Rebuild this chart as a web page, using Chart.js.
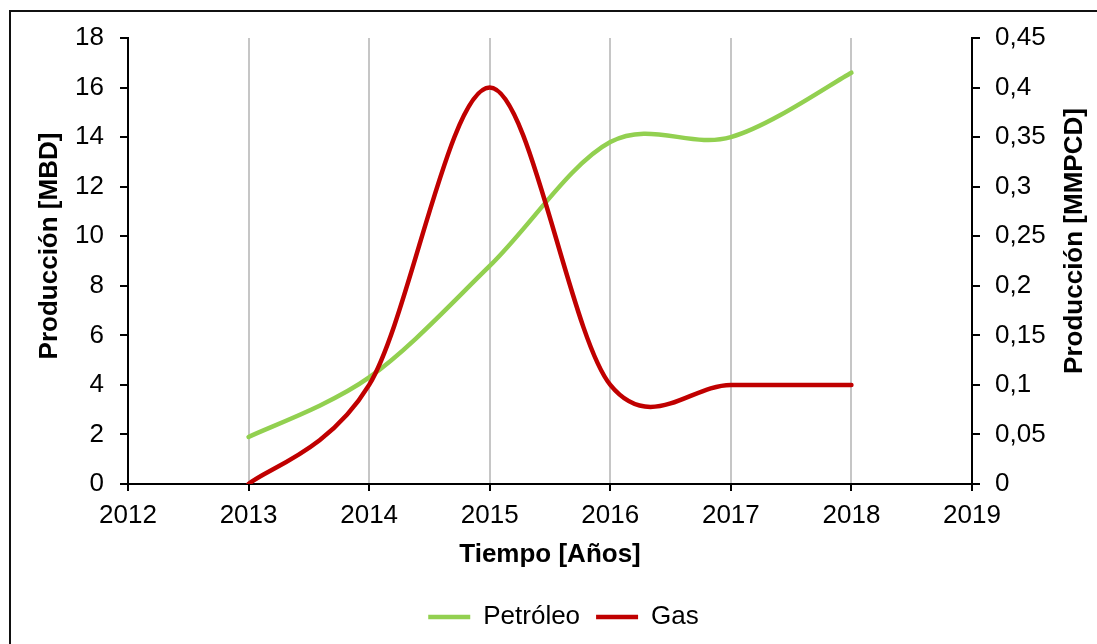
<!DOCTYPE html>
<html lang="es">
<head>
<meta charset="utf-8">
<title>Producción de Petróleo y Gas</title>
<script src="https://cdn.jsdelivr.net/npm/chart.js@4/dist/chart.umd.min.js"></script>
<style>
  html, body { margin: 0; padding: 0; background: #fff; }
  #wrap { position: relative; width: 1097px; height: 644px; overflow: hidden; }
  #frame { position: absolute; left: 9px; top: 10px; width: 1200px; height: 800px;
           border-left: 2px solid #111; border-top: 2px solid #111; pointer-events: none; }
  canvas { position: absolute; left: 0; top: 0; }
</style>
</head>
<body>
<div id="wrap">
  <canvas id="chart" width="1097" height="644"></canvas>
  <div id="frame"></div>
</div>
<script>
// Annual production series
const years = [2013, 2014, 2015, 2016, 2017, 2018];
const petroleo = [1.9, 4.3, 8.8, 13.8, 14.0, 16.6];   // MBD (left axis)
const gas = [0.0, 0.1, 0.4, 0.1, 0.1, 0.1];           // MMPCD (right axis)

const seriesNames = ['Petróleo', 'Gas'];
const xTitle = 'Tiempo [Años]';
const yLeftTitle = 'Producción [MBD]';
const yRightTitle = 'Producción [MMPCD]';

const FONT = "'Liberation Sans', Arial, sans-serif";

// Rotated titles for both vertical axes, both reading bottom-to-top
const yTitlesPlugin = {
  id: 'yTitles',
  afterDraw(chart) {
    const ctx = chart.ctx;
    const draw = (text, x, y) => {
      ctx.save();
      ctx.fillStyle = '#000';
      ctx.font = 'bold 26px ' + FONT;
      ctx.textAlign = 'center';
      ctx.textBaseline = 'middle';
      ctx.translate(x, y);
      ctx.rotate(-Math.PI / 2);
      ctx.fillText(text, 0, 0);
      ctx.restore();
    };
    draw(yLeftTitle, 50, 246);
    draw(yRightTitle, 1075, 241);
  }
};

// Spreadsheet-style smoothing: Catmull-Rom tangents (neighbour difference / 6)
// applied to the bezier control points of each line element before it is drawn.
const smoothPlugin = {
  id: 'catmullSmooth',
  beforeDatasetDraw(chart, args) {
    const line = args.meta.dataset;
    if (!line || !line.updateControlPoints) return;
    line.updateControlPoints(chart.chartArea, 'x');
    const pts = args.meta.data;
    const n = pts.length;
    for (let i = 0; i < n; i++) {
      const p = pts[i];
      const prev = pts[Math.max(i - 1, 0)];
      const next = pts[Math.min(i + 1, n - 1)];
      const dx = (next.x - prev.x) / 6;
      const dy = (next.y - prev.y) / 6;
      p.cp1x = p.x - dx; p.cp1y = p.y - dy;
      p.cp2x = p.x + dx; p.cp2y = p.y + dy;
    }
    line._path = undefined;
  }
};

const toPoints = (vals) => years.map((yr, i) => ({ x: yr, y: vals[i] }));

new Chart(document.getElementById('chart'), {
  type: 'line',
  data: {
    datasets: [
      {
        label: seriesNames[0],
        data: toPoints(petroleo),
        yAxisID: 'y',
        borderColor: '#92D050',
        backgroundColor: '#92D050',
        borderWidth: 4.5,
        pointRadius: 0,
        tension: 0.4,
        borderCapStyle: 'round',
        order: 1
      },
      {
        label: seriesNames[1],
        data: toPoints(gas),
        yAxisID: 'y1',
        borderColor: '#C00000',
        backgroundColor: '#C00000',
        borderWidth: 4.5,
        pointRadius: 0,
        tension: 0.4,
        borderCapStyle: 'round',
        order: 0
      }
    ]
  },
  options: {
    responsive: false,
    animation: false,
    layout: { padding: { left: 30, right: 0, top: 38, bottom: 4 } },
    plugins: {
      tooltip: { enabled: false },
      legend: {
        position: 'bottom',
        labels: {
          usePointStyle: true,
          pointStyle: 'line',
          pointStyleWidth: 42,
          padding: 16,
          color: '#000',
          font: { family: FONT, size: 26 },
          sort: (a, b) => a.datasetIndex - b.datasetIndex
        }
      }
    },
    scales: {
      x: {
        type: 'linear',
        min: 2012,
        max: 2019,
        afterFit: (s) => { s.height = 104; },
        ticks: {
          stepSize: 1,
          padding: 9,
          color: '#000',
          font: { family: FONT, size: 26 },
          callback: (v) => String(v)
        },
        grid: {
          color: (c) => (c.tick && (c.tick.value === 2012 || c.tick.value === 2019)) ? 'rgba(0,0,0,0)' : '#c6c6c6',
          lineWidth: 2,
          tickColor: '#000',
          tickWidth: 2,
          tickLength: 7
        },
        border: { color: '#000', width: 2 },
        title: {
          display: true,
          text: xTitle,
          color: '#000',
          font: { family: FONT, size: 26, weight: 'bold' },
          padding: { top: 4, bottom: 18 }
        }
      },
      y: {
        position: 'left',
        min: 0,
        max: 18,
        afterFit: (s) => { s.width = 98; },
        ticks: {
          stepSize: 2,
          padding: 16,
          color: '#000',
          font: { family: FONT, size: 26 },
          callback: (v) => String(v)
        },
        grid: {
          drawOnChartArea: false,
          tickColor: '#000',
          lineWidth: 2,
          tickWidth: 2,
          tickLength: 8
        },
        border: { color: '#000', width: 2 }
      },
      y1: {
        position: 'right',
        min: 0,
        max: 0.45,
        afterFit: (s) => { s.width = 125; },
        ticks: {
          stepSize: 0.05,
          padding: 15,
          color: '#000',
          font: { family: FONT, size: 26 },
          callback: (v) => String(Math.round(v * 100) / 100).replace('.', ',')
        },
        grid: {
          drawOnChartArea: false,
          tickColor: '#000',
          lineWidth: 2,
          tickWidth: 2,
          tickLength: 8
        },
        border: { color: '#000', width: 2 }
      }
    }
  },
  plugins: [smoothPlugin, yTitlesPlugin]
});
</script>
</body>
</html>
